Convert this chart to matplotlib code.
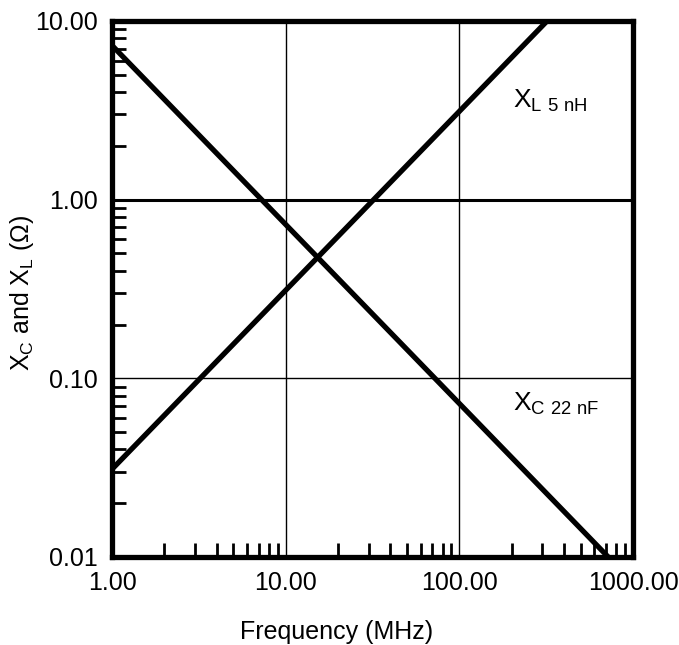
import matplotlib
matplotlib.use("Agg")
import matplotlib.pyplot as plt
from matplotlib.ticker import FixedLocator, LogLocator, NullFormatter, FixedFormatter

plt.rcParams['font.family'] = ['Liberation Sans', 'DejaVu Sans']
plt.rcParams['mathtext.fontset'] = 'custom'
plt.rcParams['mathtext.rm'] = 'Liberation Sans'

# Data (straight lines on log-log axes)
freq_xl = [1.0, 320.0]
xl_5nH = [0.031, 10.0]
freq_xc = [1.0, 720.0]
xc_22nF = [7.3, 0.01]

x_ticks = [1, 10, 100, 1000]
x_labels = ["1.00", "10.00", "100.00", "1000.00"]
y_ticks = [0.01, 0.1, 1, 10]
y_labels = ["0.01", "0.10", "1.00", "10.00"]

fig = plt.figure(figsize=(6.79, 6.45), dpi=100)
ax = fig.add_axes([112/679, 1-557/645, (633-112)/679, (557-21)/645])
ax.set_xscale('log')
ax.set_yscale('log')
ax.set_xlim(1, 1000)
ax.set_ylim(0.01, 10)

# grid lines
for xv in [10, 100]:
    ax.axvline(xv, color='black', lw=1.0, zorder=1)
ax.axhline(0.1, color='black', lw=1.0, zorder=1)
ax.axhline(1.0, color='black', lw=2.2, zorder=1)

ax.plot(freq_xl, xl_5nH, color='black', lw=3.8, solid_capstyle='butt', zorder=3)
ax.plot(freq_xc, xc_22nF, color='black', lw=3.8, solid_capstyle='butt', zorder=3)

ax.xaxis.set_major_locator(FixedLocator(x_ticks))
ax.xaxis.set_major_formatter(FixedFormatter(x_labels))
ax.yaxis.set_major_locator(FixedLocator(y_ticks))
ax.yaxis.set_major_formatter(FixedFormatter(y_labels))
ax.xaxis.set_minor_locator(LogLocator(base=10, subs=range(2, 10)))
ax.yaxis.set_minor_locator(LogLocator(base=10, subs=range(2, 10)))
ax.xaxis.set_minor_formatter(NullFormatter())
ax.yaxis.set_minor_formatter(NullFormatter())
ax.tick_params(which='major', direction='in', length=0, labelsize=18)
ax.tick_params(axis='x', which='major', pad=10)
ax.tick_params(axis='y', which='major', pad=10)
ax.tick_params(which='minor', direction='in', length=10, width=2)

for s in ax.spines.values():
    s.set_linewidth(3.8)
    s.set_zorder(4)

ax.text(205, 3.6, r"X$_{\mathregular{L\ 5\ nH}}$", fontsize=19, va='center', ha='left')
ax.text(205, 0.072, r"X$_{\mathregular{C\ 22\ nF}}$", fontsize=19, va='center', ha='left')

ax.set_xlabel("Frequency (MHz)", fontsize=18)
ax.xaxis.set_label_coords((337-112)/521, (557-620)/536)
ax.set_ylabel(r"X$_{\mathregular{C}}$ and X$_{\mathregular{L}}$ ($\mathregular{\Omega}$)", fontsize=18)
ax.yaxis.set_label_coords((36-112)/521, (557-293)/536)

fig.savefig("out.png", dpi=100)
